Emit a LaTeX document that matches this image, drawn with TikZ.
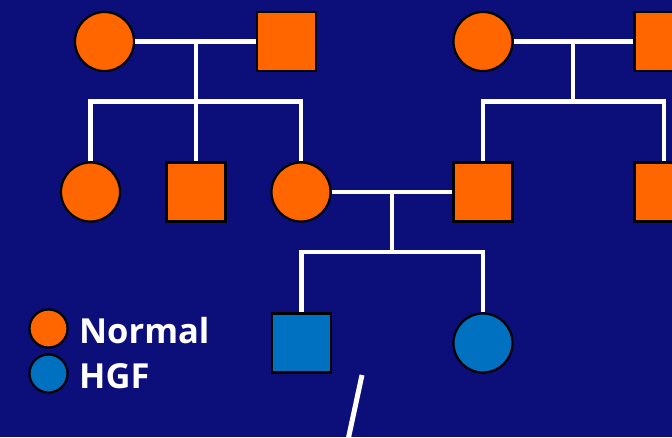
\documentclass[tikz,border=0pt]{standalone}
\usepackage{fontspec}
\setmainfont{Open Sans}
\definecolor{bgblue}{RGB}{12,14,122}
\definecolor{normal}{RGB}{255,102,0}
\definecolor{hgf}{RGB}{0,112,192}
\begin{document}
\begin{tikzpicture}[x=1pt,y=-1pt,
  female/.style={circle,draw=black,line width=2.2pt,minimum size=59pt,inner sep=0pt},
  male/.style={rectangle,draw=black,line width=2.2pt,minimum size=59pt,inner sep=0pt},
  keydot/.style={circle,draw=black,line width=2.2pt,minimum size=38pt,inner sep=0pt},
  link/.style={draw=white,line width=4.8pt},
  keytext/.style={text=white,font=\bfseries\fontsize{34.5}{38}\selectfont,anchor=west,inner sep=0pt}]
  \fill[bgblue] (0,0) rectangle (672,437);
  \clip (0,0) rectangle (672,437);
  \useasboundingbox (0,0) rectangle (672,437);

  % first generation
  \node[female,fill=normal] (gm1) at (104.5,41.5) {};
  \node[male,fill=normal]   (gf1) at (286.5,41.5) {};
  \node[female,fill=normal] (gm2) at (483,41.5) {};
  \node[male,fill=normal]   (gf2) at (664,41.5) {};

  % second generation
  \node[female,fill=normal] (c1) at (90.5,192) {};
  \node[male,fill=normal]   (c2) at (196,192) {};
  \node[female,fill=normal] (mo) at (301,192) {};
  \node[male,fill=normal]   (fa) at (483,192) {};
  \node[male,fill=normal]   (c5) at (664,192) {};

  % third generation
  \node[male,fill=hgf]   (s1) at (301.5,343) {};
  \node[female,fill=hgf] (s2) at (483,343) {};

  % junction points
  \coordinate (m1) at (196,41.5);
  \coordinate (j1) at (196,101.5);
  \coordinate (m2) at (573,41.5);
  \coordinate (j2) at (573,101.5);
  \coordinate (m3) at (392,192);
  \coordinate (j3) at (392,252);

  % first family
  \draw[link] (gm1.east) -- (gf1.west);
  \draw[link] (m1) -- (j1);
  \draw[link] (c1.north) -- (c1.north |- j1) -- (mo.north |- j1) -- (mo.north);
  \draw[link] (j1) -- (c2.north);

  % second family
  \draw[link] (gm2.east) -- (gf2.west);
  \draw[link] (m2) -- (j2);
  \draw[link] (fa.north) -- (fa.north |- j2) -- (c5.north |- j2) -- (c5.north);

  % couple and children
  \draw[link] (mo.east) -- (fa.west);
  \draw[link] (m3) -- (j3);
  \draw[link] (s1.north) -- (s1.north |- j3) -- (s2.north |- j3) -- (s2.north);

  % pointer stroke
  \coordinate (p1) at (362,375);
  \coordinate (p2) at (348,440);
  \draw[draw=white,line width=5pt] (p1) -- (p2);

  % key
  \node[keydot,fill=normal] (k1) at (48.5,328.5) {};
  \node[keydot,fill=hgf]    (k2) at (48.5,373.5) {};
  \node[keytext] (t1) at (79,331) {Normal};
  \node[keytext] (t2) at (79,376) {HGF};
\end{tikzpicture}
\end{document}
